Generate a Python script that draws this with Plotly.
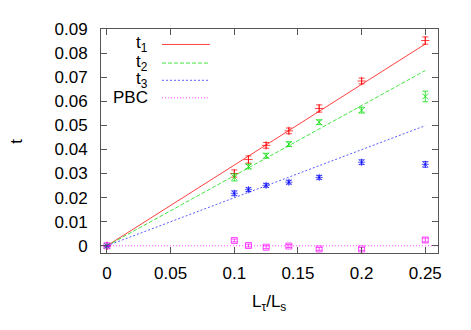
import plotly.graph_objects as go

# ---- data ----
x_vals = [0.0, 0.1, 1/9, 0.125, 1/7, 1/6, 0.2, 0.25]
t1 = [0.0, 0.0300, 0.0358, 0.0417, 0.0477, 0.0570, 0.0684, 0.0852]
t1_err = [0.0, 0.0015, 0.0015, 0.0012, 0.0012, 0.0015, 0.0012, 0.0015]
t2 = [0.0, 0.0284, 0.0329, 0.0374, 0.0422, 0.0513, 0.0563, 0.0620]
t2_err = [0.0, 0.0015, 0.0010, 0.0010, 0.0010, 0.0010, 0.0012, 0.0022]
t3 = [0.0, 0.0218, 0.0233, 0.0251, 0.0264, 0.0284, 0.0347, 0.0338]
t3_err = [0.0, 0.0010, 0.0008, 0.0008, 0.0008, 0.0008, 0.0010, 0.0012]
pbc = [0.0, 0.0022, 0.0001, -0.0006, -0.0001, -0.0013, -0.0013, 0.0024]
pbc_err = [0.0, 0.0006, 0.0006, 0.0006, 0.0006, 0.0006, 0.0006, 0.0008]

fit_x = [0.0, 0.25]
slope_t1 = 0.335
slope_t2 = 0.291
slope_t3 = 0.1995
pbc_line_x = [-0.0047, 0.26]
pbc_line_y = [0.0, 0.0]

legend_labels = ["t<sub>1</sub>", "t<sub>2</sub>", "t<sub>3</sub>", "PBC"]

RED = "rgba(255,0,0,0.75)"
GREEN = "rgba(0,220,0,0.75)"
BLUE = "rgba(0,0,255,0.65)"
MAG = "rgba(255,0,255,0.7)"

FONT = "Liberation Sans, Arial, sans-serif"
FS = 17

fig = go.Figure()

# fit lines
fig.add_trace(go.Scatter(x=fit_x, y=[slope_t1 * v for v in fit_x], mode="lines",
                         line=dict(color=RED, width=1), hoverinfo="skip"))
fig.add_trace(go.Scatter(x=fit_x, y=[slope_t2 * v for v in fit_x], mode="lines",
                         line=dict(color=GREEN, width=1, dash="4px,2px"), hoverinfo="skip"))
fig.add_trace(go.Scatter(x=fit_x, y=[slope_t3 * v for v in fit_x], mode="lines",
                         line=dict(color=BLUE, width=1, dash="2px,2px"), hoverinfo="skip"))
fig.add_trace(go.Scatter(x=pbc_line_x, y=pbc_line_y, mode="lines",
                         line=dict(color=MAG, width=1, dash="1px,2px"), hoverinfo="skip"))

# data points with error bars
def pts(y, err, color, symbol, size):
    return go.Scatter(
        x=x_vals, y=y, mode="markers",
        marker=dict(symbol=symbol, size=size, color=color,
                    line=dict(color=color, width=1)),
        error_y=dict(type="data", array=err, visible=True, color=color,
                     thickness=1, width=3),
    )

fig.add_trace(pts(t1, t1_err, RED, "cross-thin", 6))
fig.add_trace(pts(t2, t2_err, GREEN, "x-thin", 6))
fig.add_trace(pts(t3, t3_err, BLUE, "asterisk", 6))
fig.add_trace(pts(pbc, pbc_err, MAG, "square-open", 6))

# legend (gnuplot style: text then line sample)
leg_y = [0.931, 0.848, 0.771, 0.693]
leg_colors = [RED, GREEN, BLUE, MAG]
leg_dash = ["solid", "4px,2px", "2px,2px", "1px,2px"]
for lab, yy, c, d in zip(legend_labels, leg_y, leg_colors, leg_dash):
    fig.add_annotation(x=0.145, y=yy, xref="paper", yref="paper", text=lab,
                       showarrow=False, xanchor="right", yanchor="middle",
                       font=dict(family=FONT, size=FS, color="black"))
    fig.add_shape(type="line", xref="paper", yref="paper", x0=0.181, x1=0.323,
                  y0=yy, y1=yy, line=dict(color=c, width=1, dash=d))

axis_common = dict(
    showgrid=False, zeroline=False, showline=True, linecolor="#555555",
    linewidth=1, mirror="ticks", ticks="inside", ticklen=6, tickcolor="#555555",
    tickfont=dict(family=FONT, size=FS, color="black"),
)

fig.update_xaxes(range=[-0.0047, 0.26], tickvals=[0, 0.05, 0.1, 0.15, 0.2, 0.25],
                 ticktext=["0", "0.05", "0.1", "0.15", "0.2", "0.25"],
                 ticklabelstandoff=5, **axis_common)
fig.update_yaxes(range=[-0.003, 0.09], tickvals=[i / 100 for i in range(10)],
                 ticktext=["0"] + ["0.0%d" % i for i in range(1, 10)],
                 ticklabelstandoff=9, **axis_common)

fig.add_annotation(x=0.498, y=-0.225, xref="paper", yref="paper",
                   text="L<sub>τ</sub>/L<sub>s</sub>", showarrow=False,
                   xanchor="center", yanchor="middle",
                   font=dict(family=FONT, size=FS, color="black"))
fig.add_annotation(x=-0.253, y=0.5, xref="paper", yref="paper", text="t",
                   showarrow=False, textangle=-90, xanchor="center", yanchor="middle",
                   font=dict(family=FONT, size=FS, color="black"))

# page body adds an 8px margin, so the figure is sized/offset to compensate
fig.update_layout(
    width=463, height=322, showlegend=False,
    margin=dict(l=93, r=33, t=14, b=77),
    paper_bgcolor="white", plot_bgcolor="white",
)

fig.write_html("out.html")
